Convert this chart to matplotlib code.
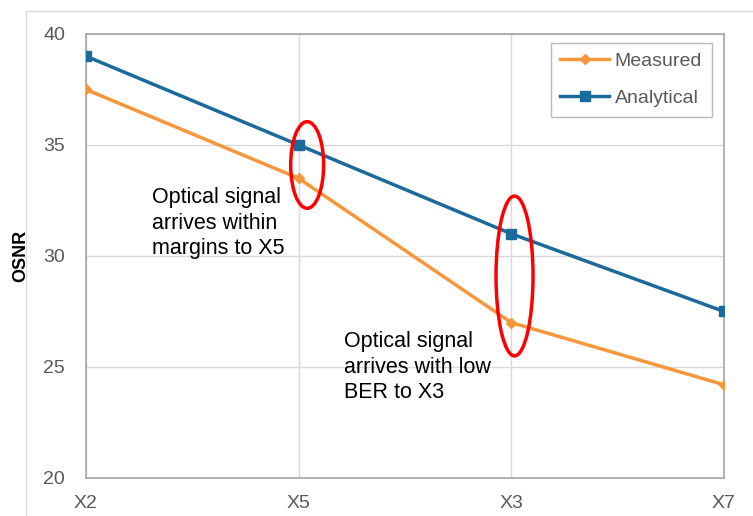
import matplotlib
matplotlib.use("Agg")
import matplotlib.pyplot as plt
from matplotlib.patches import Ellipse, Rectangle

categories = ["X2", "X5", "X3", "X7"]
measured = [37.5, 33.5, 27.0, 24.2]
analytical = [39.0, 35.0, 31.0, 27.5]
y_ticks = [20, 25, 30, 35, 40]

plt.rcParams['font.family'] = ['Liberation Sans', 'DejaVu Sans']

fig = plt.figure(figsize=(7.53, 5.16), dpi=100)
# outer chart-area frame
fig.patches.append(Rectangle((26/753, -0.1), 1.1, 1 - 11/516 + 0.1, transform=fig.transFigure,
                             fill=False, edgecolor='#D9D9D9', lw=1.0))
ax = fig.add_axes([86/753, 38/516, (724-86)/753, (478-34)/516])

x = list(range(len(categories)))
ax.plot(x, measured, color='#F7963A', lw=2.5, marker='D', markersize=5, label='Measured', zorder=3)
ax.plot(x, analytical, color='#1B6A9C', lw=2.5, marker='s', markersize=7, label='Analytical', zorder=3)

ax.set_xlim(0, 3)
ax.set_ylim(20, 40)
ax.set_xticks(x)
ax.set_xticklabels(categories)
ax.set_yticks(y_ticks)
ax.grid(True, color='#D9D9D9', lw=1)
ax.set_axisbelow(True)
for s in ax.spines.values():
    s.set_color('#A6A6A6')
    s.set_linewidth(1.2)
ax.tick_params(length=0, labelsize=14, colors='#595959')
ax.tick_params(axis='y', pad=15)
ax.tick_params(axis='x', pad=12)
ax.set_ylabel('OSNR', fontsize=13, fontweight='bold', labelpad=10)

ax.add_patch(Ellipse((1.04, 34.1), 0.155, 3.9, fill=False, edgecolor='#FF0000', lw=2.5, zorder=4))
ax.add_patch(Ellipse((2.015, 29.1), 0.174, 7.2, fill=False, edgecolor='#FF0000', lw=2.5, zorder=4))

ax.text(0.31, 33.1, "Optical signal\narrives within\nmargins to X5", fontsize=15.5, va='top', ha='left',
        linespacing=1.28)
ax.text(1.215, 26.6, "Optical signal\narrives with low\nBER to X3", fontsize=15.5, va='top', ha='left',
        linespacing=1.28)

leg = ax.legend(loc='upper right', bbox_to_anchor=(0.981, 0.98), borderaxespad=0, fontsize=14,
                frameon=True, fancybox=False, edgecolor='#A6A6A6', handlelength=2.5, borderpad=0.5,
                labelspacing=1.0, handletextpad=0.3)
for t in leg.get_texts():
    t.set_color('#595959')

fig.savefig('out.png', dpi=100)
